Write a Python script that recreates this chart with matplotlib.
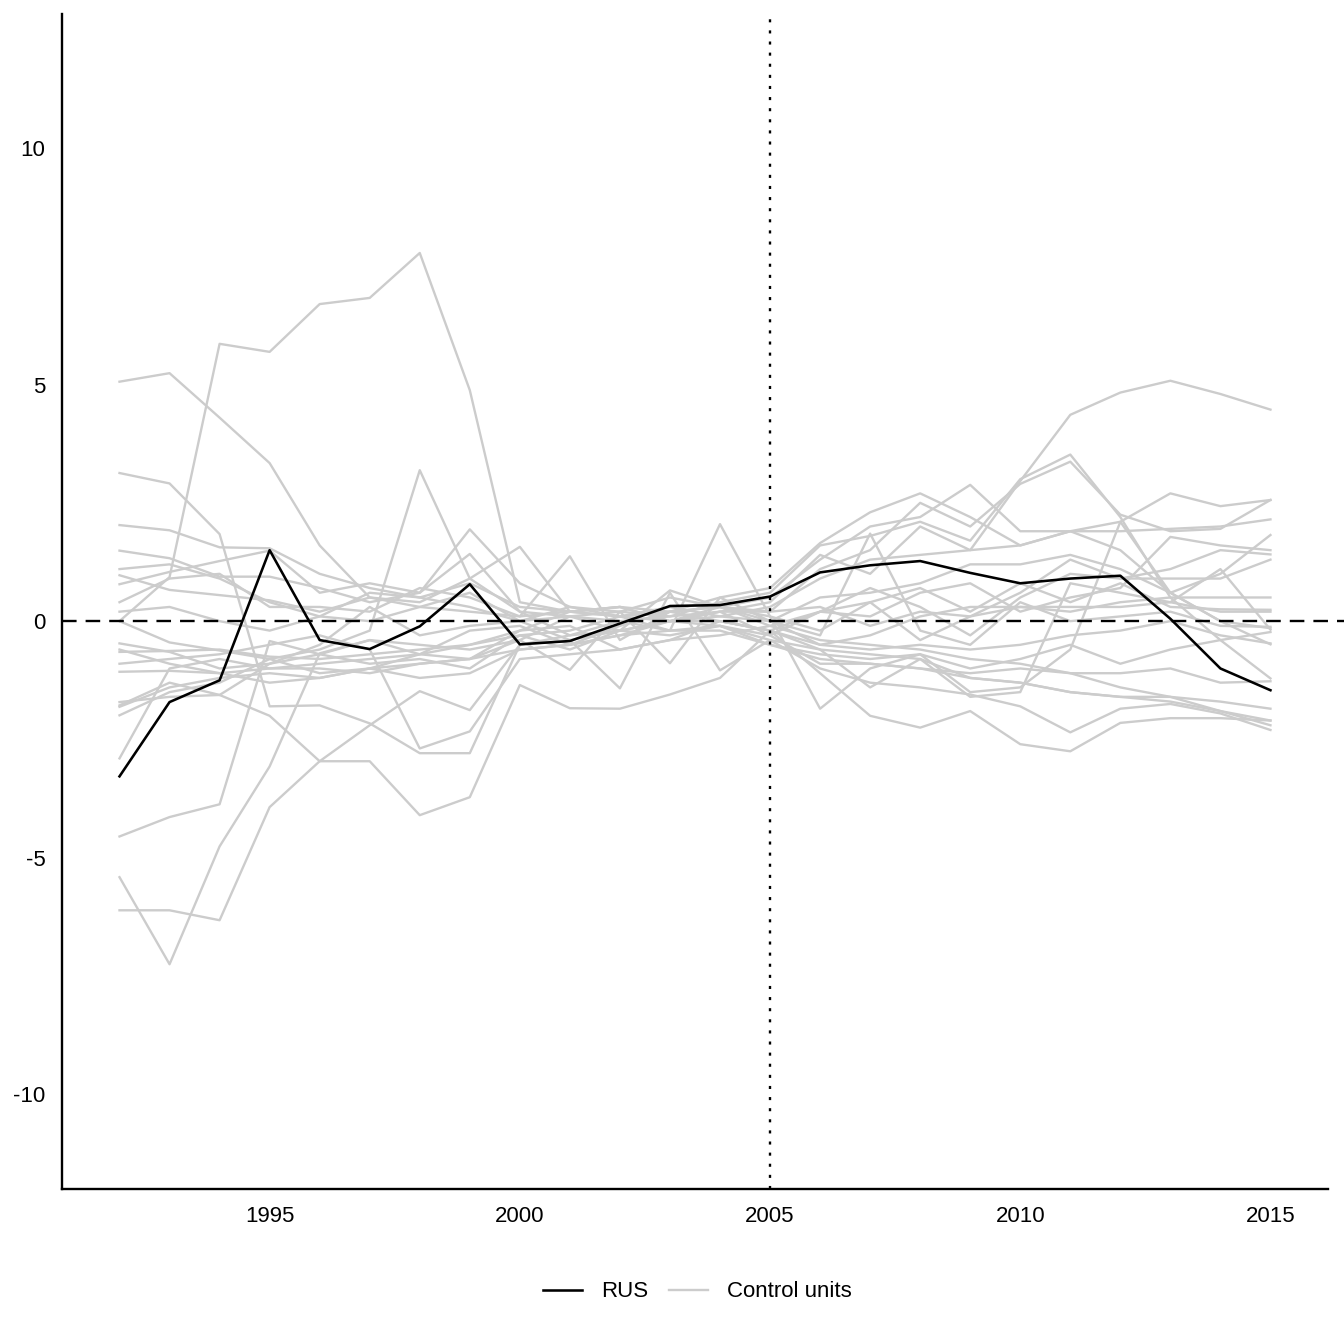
import numpy as np
import matplotlib
matplotlib.use('Agg')
import matplotlib.pyplot as plt

plt.rcParams['font.family'] = ['Liberation Sans', 'DejaVu Sans']
plt.rcParams['lines.scale_dashes'] = False
plt.rcParams['axes.unicode_minus'] = False

years = list(range(1992, 2016))
treat_year = 2005

# treated unit
rus = [-3.28, -1.71, -1.25, 1.50, -0.40, -0.59, -0.11, 0.78, -0.49, -0.42, -0.05, 0.32,
       0.34, 0.52, 1.03, 1.18, 1.27, 1.02, 0.80, 0.90, 0.96, 0.05, -1.00, -1.46]

# placebo gaps for the control units
controls = [
    [0.00, 0.93, 5.86, 5.69, 6.70, 6.83, 7.78, 4.88, 0.40, 0.20, 0.10, 0.30, 0.10, 0.30, 0.90, 1.30, 1.40, 1.50, 2.96, 4.36, 4.83, 5.08, 4.80, 4.47],
    [5.06, 5.24, 4.30, 3.34, 1.60, 0.50, 0.30, 0.60, 0.00, 0.30, 0.20, 0.10, 0.40, 0.60, 1.60, 1.80, 2.10, 1.70, 3.00, 3.52, 2.20, 0.50, -0.40, -1.21],
    [3.13, 2.91, 1.84, -1.80, -1.78, -2.16, -2.79, -2.79, -0.50, -0.40, -0.20, 0.00, 0.20, 0.20, 1.10, 1.50, 2.50, 2.00, 2.90, 3.37, 2.25, 1.90, 1.95, 2.56],
    [2.03, 1.92, 1.56, 1.54, 1.00, 0.70, 0.50, 0.80, 0.30, 0.20, 0.10, 0.20, 0.50, 0.70, 1.65, 2.30, 2.70, 2.20, 1.60, 1.90, 2.10, 2.70, 2.43, 2.56],
    [1.49, 1.33, 0.94, 0.94, 0.70, 0.40, 0.60, 1.94, 0.80, 0.30, 0.10, 0.00, 0.30, 0.50, 1.30, 2.00, 2.20, 2.88, 1.90, 1.90, 1.90, 1.95, 2.00, 2.15],
    [0.78, 1.04, 1.27, 1.49, 0.60, 0.80, 0.60, 1.42, 0.20, -0.30, 0.00, 0.10, 0.20, 0.40, 1.40, 1.00, 2.00, 1.50, 1.60, 1.90, 1.50, 0.60, 1.00, 1.82],
    [0.97, 0.66, 0.55, 0.44, 0.20, 0.50, 0.40, 0.90, 1.57, 0.20, 0.30, 0.00, 0.00, -0.20, 0.20, 0.10, 0.60, 0.80, 0.20, 0.50, 0.70, 1.78, 1.60, 1.50],
    [0.40, 0.90, 1.00, 0.30, 0.30, 0.20, 0.70, 0.50, 0.10, 1.37, -0.40, 0.20, 0.30, 0.10, -0.20, 0.40, -0.40, 0.10, 0.60, 1.30, 0.90, 1.10, 1.50, 1.41],
    [0.00, -0.45, -0.62, -0.80, -0.60, -0.20, 3.19, 0.90, 0.20, 0.10, 0.20, 0.50, 0.30, -0.10, 0.20, 0.70, 0.30, -0.30, 0.50, 1.00, 0.90, 0.90, 0.90, 1.30],
    [-0.47, -0.65, -1.00, -0.90, -0.70, -0.90, -0.80, -1.00, -0.30, -0.60, -0.20, 0.65, 0.30, 0.00, -0.50, -0.30, 0.10, 0.30, 0.30, 0.20, 0.40, 0.50, 0.50, 0.50],
    [-0.65, -0.63, -0.60, -0.75, -0.80, -0.70, -0.60, -0.50, -0.20, 0.20, 0.30, 0.00, 0.20, -0.30, 0.20, 0.40, 0.70, 0.20, 0.80, 0.40, 0.80, 0.30, 0.25, 0.24],
    [-1.07, -1.05, -1.10, -1.00, -1.00, -1.10, -0.90, -0.80, -0.40, -1.03, 0.20, -0.89, 0.50, 0.00, -0.30, 1.85, -0.20, -0.50, 0.40, 0.00, 0.10, 0.20, -0.10, -0.12],
    [-1.71, -1.60, -1.56, -0.90, -0.50, 0.30, -0.30, -0.10, 0.00, -0.40, -1.42, 0.60, -1.04, -0.40, -0.60, -1.40, -0.80, -1.60, -1.50, 0.80, 0.60, 0.40, 1.10, -0.18],
    [-1.81, -1.40, -1.20, -1.10, -1.20, -1.00, -0.70, -0.80, -0.20, -0.10, -0.60, -0.40, 0.00, -0.20, -0.50, -0.60, -0.50, -0.60, -0.50, -0.30, -0.20, 0.00, -0.30, -0.47],
    [-1.99, -1.50, -1.30, -0.80, -1.10, -1.00, -1.20, -1.10, -0.60, -0.50, -0.30, 0.00, -0.10, -0.50, -0.70, -0.80, -0.70, -1.00, -0.80, -0.50, -0.90, -0.60, -0.40, -0.23],
    [-2.90, -1.00, -0.80, -1.00, -0.90, -0.80, -0.70, -0.50, -0.30, -0.20, 0.10, -0.20, -0.10, -0.30, -0.90, -0.90, -1.00, -1.10, -1.00, -1.10, -1.10, -1.00, -1.30, -1.27],
    [-4.55, -4.14, -3.87, -0.42, -0.70, -0.40, -0.50, -0.60, -0.40, 0.10, 0.00, -0.20, 2.05, 0.10, -1.85, -1.00, -0.70, -1.50, -1.40, -0.60, 2.10, 0.60, 0.00, -0.15],
    [-5.41, -7.25, -4.76, -3.07, -0.68, -0.40, -0.70, -0.20, -0.10, -0.50, -0.10, 0.20, 0.00, -0.20, -0.60, -0.70, -0.80, -1.20, -1.30, -1.50, -1.60, -1.60, -1.70, -1.85],
    [-6.11, -6.11, -6.32, -3.93, -2.96, -2.96, -4.10, -3.72, -1.35, -1.84, -1.85, -1.55, -1.20, -0.20, -1.10, -2.00, -2.25, -1.90, -2.60, -2.75, -2.15, -2.05, -2.05, -2.10],
    [-1.78, -1.30, -1.56, -2.00, -2.96, -2.20, -1.48, -1.88, -0.50, -0.30, -0.20, -0.30, -0.10, -0.40, -1.00, -1.30, -1.40, -1.55, -1.80, -2.35, -1.85, -1.75, -1.95, -2.30],
    [-0.90, -0.80, -0.70, -0.50, -0.30, -0.60, -2.69, -2.33, -0.80, -0.70, -0.60, -0.40, -0.30, -0.10, -0.40, -0.50, -0.60, -0.80, -0.90, -1.10, -1.40, -1.60, -1.90, -2.20],
    [1.10, 1.20, 0.90, 0.40, 0.10, 0.00, 0.30, 0.20, 0.10, 0.20, 0.30, 0.20, 0.30, 0.20, 0.30, -0.10, 0.20, 0.10, 0.30, 0.30, 0.30, 0.40, 0.20, 0.20],
    [-0.60, -0.90, -1.10, -1.30, -1.20, -1.00, -0.90, -0.80, -0.60, -0.50, -0.30, -0.20, -0.20, -0.50, -0.80, -0.90, -1.00, -1.20, -1.30, -1.50, -1.60, -1.70, -1.90, -2.10],
    [0.20, 0.30, 0.00, -0.20, 0.10, 0.60, 0.50, 0.30, 0.00, 0.10, -0.20, 0.00, 0.10, 0.00, 0.50, 0.60, 0.80, 1.20, 1.20, 1.40, 1.10, 0.60, 0.00, -0.49],
]

x_ticks = [1995, 2000, 2005, 2010, 2015]
y_ticks = [-10, -5, 0, 5, 10]


def main():
    fig = plt.figure(figsize=(13.44, 13.44), dpi=100)
    ax = fig.add_axes([0.0461, 0.1153, 0.9420, 0.8743])

    for i, c in enumerate(controls):
        ax.plot(years, c, color='#cccccc', lw=1.7,
                label='Control units' if i == 0 else None, zorder=2)
    ax.plot(years, rus, color='black', lw=1.85, label='RUS', zorder=3)

    # zero line runs a little past the panel, like the reference
    ax.plot([1990.85, 2016.6], [0, 0], color='black', lw=1.7,
            linestyle=(0, (10.5, 6.5)), zorder=4, clip_on=False)
    ax.axvline(treat_year, color='black', lw=1.7, linestyle=(0, (2.2, 5.8)), zorder=4)

    ax.set_xlim(1990.85, 2016.15)
    ax.set_ylim(-12.0, 12.83)
    ax.set_xticks(x_ticks)
    ax.set_yticks(y_ticks)
    ax.tick_params(length=0, labelsize=16, pad=12)

    for s in ['top', 'right']:
        ax.spines[s].set_visible(False)
    for s in ['left', 'bottom']:
        ax.spines[s].set_linewidth(1.7)

    h, l = ax.get_legend_handles_labels()
    order = [l.index('RUS'), l.index('Control units')]
    fig.legend([h[k] for k in order], [l[k] for k in order], loc='center',
               bbox_to_anchor=(0.519, 0.0387), ncol=2, frameon=False, fontsize=16,
               handlelength=1.75, columnspacing=0.95, handletextpad=0.85)

    fig.savefig('out.png', dpi=100)


if __name__ == '__main__':
    main()
